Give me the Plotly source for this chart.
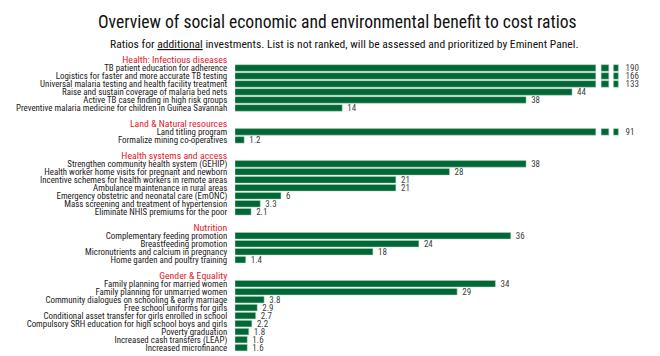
import plotly.graph_objects as go

# ---------------- data ----------------
section_titles = [
    "Health: Infectious diseases",
    "Land & Natural resources",
    "Health systems and access",
    "Nutrition",
    "Gender & Equality",
]

health_infectious_labels = [
    "TB patient education for adherence",
    "Logistics for faster and more accurate TB testing",
    "Universal malaria testing and health facility treatment",
    "Raise and sustain coverage of malaria bed nets",
    "Active TB case finding in high risk groups",
    "Preventive malaria medicine for children in Guinea Savannah",
]
health_infectious_values = [190, 166, 133, 44, 38, 14]

land_labels = [
    "Land titling program",
    "Formalize mining co-operatives",
]
land_values = [91, 1.2]

health_systems_labels = [
    "Strengthen community health system (GEHIP)",
    "Health worker home visits for pregnant and newborn",
    "Incentive schemes for health workers in remote areas",
    "Ambulance maintenance in rural areas",
    "Emergency obstetric and neonatal care (EmONC)",
    "Mass screening and treatment of hypertension",
    "Eliminate NHIS premiums for the poor",
]
health_systems_values = [38, 28, 21, 21, 6, 3.3, 2.1]

nutrition_labels = [
    "Complementary feeding promotion",
    "Breastfeeding promotion",
    "Micronutrients and calcium in pregnancy",
    "Home garden and poultry training",
]
nutrition_values = [36, 24, 18, 1.4]

gender_labels = [
    "Family planning for married women",
    "Family planning for unmarried women",
    "Community dialogues on schooling & early marriage",
    "Free school uniforms for girls",
    "Conditional asset transfer for girls enrolled in school",
    "Compulsory SRH education for high school boys and girls",
    "Poverty graduation",
    "Increased cash transfers (LEAP)",
    "Increased microfinance",
]
gender_values = [34, 29, 3.8, 2.9, 2.7, 2.2, 1.8, 1.6, 1.6]

sections = [
    (section_titles[0], health_infectious_labels, health_infectious_values),
    (section_titles[1], land_labels, land_values),
    (section_titles[2], health_systems_labels, health_systems_values),
    (section_titles[3], nutrition_labels, nutrition_values),
    (section_titles[4], gender_labels, gender_values),
]

# ---------------- styling ----------------
FONT = "Roboto Condensed, Lato, sans-serif"
GREEN = "#006837"
RED = "#e0202b"
AXIS_CAP = 47.1          # where over-long bars are broken
X_MAX = 54.83

tickvals, ticktext = [], []
bar_y, bar_v = [], []
row = 0
for title, labels, values in sections:
    tickvals.append(row)
    ticktext.append(f'<span style="color:{RED};font-size:9.8px">{title}</span>')
    row += 1
    for lab, val in zip(labels, values):
        tickvals.append(row)
        ticktext.append(lab)
        bar_y.append(row)
        bar_v.append(val)
        row += 1
    row += 1  # spacer between sections

def fmt(v):
    return f"{v:g}"

main_x = [min(v, AXIS_CAP) for v in bar_v]
main_text = ["\u00a0" + fmt(v) if v <= AXIS_CAP else "" for v in bar_v]

brk_y = [y for y, v in zip(bar_y, bar_v) if v > AXIS_CAP]
brk_v = [v for v in bar_v if v > AXIS_CAP]

fig = go.Figure()
bar_common = dict(
    orientation="h",
    width=0.82,
    marker=dict(color=GREEN, line=dict(color="#b7d3c0", width=0.5)),
    textposition="outside",
    constraintext="none",
    cliponaxis=False,
    textfont=dict(family=FONT, size=9, color="#404040"),
    hoverinfo="skip",
    showlegend=False,
)
fig.add_trace(go.Bar(y=bar_y, x=main_x, text=main_text, **bar_common))
# broken-bar stubs
fig.add_trace(go.Bar(y=brk_y, x=[1.0] * len(brk_y), base=[AXIS_CAP + 0.7] * len(brk_y),
                     text=[""] * len(brk_y), **bar_common))
fig.add_trace(go.Bar(y=brk_y, x=[0.65] * len(brk_y), base=[AXIS_CAP + 2.3] * len(brk_y),
                     text=["\u00a0\u00a0" + fmt(v) for v in brk_v], **bar_common))

# the page body adds an 8px offset, so the figure is laid out 8px smaller
OFF = 8
W, H = 660 - OFF, 356 - OFF
ML, MR, MT, MB = 235 - OFF, 5, 52 - OFF, 0
pw, ph = W - ML - MR, H - MT - MB

def px_to_paper(px, py):
    return (px - OFF - ML) / pw, 1 + (MT - (py - OFF)) / ph

tx, ty = px_to_paper(337, 22)
sx, sy = px_to_paper(344, 44)

fig.update_layout(
    width=W, height=H,
    margin=dict(l=ML, r=MR, t=MT, b=MB, pad=0, autoexpand=False),
    plot_bgcolor="white", paper_bgcolor="white",
    barmode="overlay",
    font=dict(family=FONT, color="#1a1a1a"),
    xaxis=dict(range=[0, X_MAX], visible=False, fixedrange=True, automargin=False),
    yaxis=dict(
        range=[37.05, -1],
        automargin=False,
        tickvals=tickvals, ticktext=ticktext,
        tickfont=dict(family=FONT, size=8.9, color="#1a1a1a"),
        ticks="outside", ticklen=5, tickcolor="rgba(0,0,0,0)",
        showgrid=False, zeroline=False, showline=False,
    ),
    shapes=[dict(type="line", xref="x", yref="y", x0=-0.15, x1=-0.15,
                 y0=0.5, y1=37.05, layer="below",
                 line=dict(color="#bdbdbd", width=1))],
    annotations=[
        dict(xref="paper", yref="paper", x=tx, y=ty, xanchor="center", yanchor="middle",
             text="Overview of social economic and environmental benefit to cost ratios",
             showarrow=False, font=dict(family=FONT, size=17.6, color="#111111")),
        dict(xref="paper", yref="paper", x=sx, y=sy, xanchor="center", yanchor="middle",
             text="Ratios for <u>additional</u> investments. List is not ranked, will be assessed and prioritized by Eminent Panel.",
             showarrow=False, font=dict(family=FONT, size=11.6, color="#111111")),
    ],
)

fig.write_html("out.html")
